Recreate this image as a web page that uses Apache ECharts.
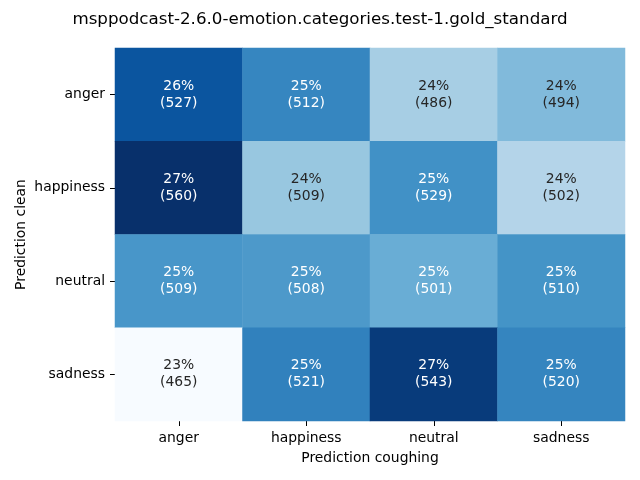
<!DOCTYPE html>
<html>
<head>
<meta charset="utf-8">
<script src="https://cdn.jsdelivr.net/npm/echarts@6/dist/echarts.min.js"></script>
<style>html,body{margin:0;padding:0;background:#fff;}#c{width:640px;height:480px;}</style>
</head>
<body>
<div id="c"></div>
<script>
const titleText = "msppodcast-2.6.0-emotion.categories.test-1.gold_standard";
const xCategories = ["anger", "happiness", "neutral", "sadness"];
const yCategories = ["anger", "happiness", "neutral", "sadness"];
const countsAnger = [527, 512, 486, 494];
const countsHappiness = [560, 509, 529, 502];
const countsNeutral = [509, 508, 501, 510];
const countsSadness = [465, 521, 543, 520];
const xName = "Prediction coughing";
const yName = "Prediction clean";

const rows = [countsAnger, countsHappiness, countsNeutral, countsSadness];
const blues = ['#f7fbff','#deebf7','#c6dbef','#9ecae1','#6baed6','#4292c6','#2171b5','#08519c','#08306b'];

function hexToRgb(h){return [parseInt(h.substr(1,2),16),parseInt(h.substr(3,2),16),parseInt(h.substr(5,2),16)];}
function colorAt(t){
  t=Math.max(0,Math.min(1,t));
  const p=t*(blues.length-1); const i=Math.min(Math.floor(p),blues.length-2); const f=p-i;
  const a=hexToRgb(blues[i]), b=hexToRgb(blues[i+1]);
  return [0,1,2].map(k=>a[k]+(b[k]-a[k])*f);
}
function lum(rgb){
  const c=rgb.map(v=>{v/=255;return v<=0.03928?v/12.92:Math.pow((v+0.055)/1.055,2.4);});
  return 0.2126*c[0]+0.7152*c[1]+0.0722*c[2];
}

const cells=[];
rows.forEach((r,yi)=>{
  const s=r.reduce((a,b)=>a+b,0);
  r.forEach((v,xi)=>{cells.push({xi,yi,pct:v/s*100,count:v});});
});
const pmin=Math.min(...cells.map(c=>c.pct)), pmax=Math.max(...cells.map(c=>c.pct));
const data=cells.map(c=>{
  const rgb=colorAt((c.pct-pmin)/(pmax-pmin));
  const txt=lum(rgb)>0.408?'#262626':'#ffffff';
  return {value:[c.xi,c.yi,c.pct,c.count],label:{color:txt}};
});

const chart=echarts.init(document.getElementById('c'),null,{renderer:'canvas'});
const font='DejaVu Sans';
chart.setOption({
  backgroundColor:'#ffffff',
  animation:false,
  title:{text:titleText,left:'center',top:6,textStyle:{fontFamily:font,fontSize:16.7,fontWeight:'normal',color:'#000'}},
  grid:{left:115,right:15,top:48,bottom:59},
  xAxis:{type:'category',data:xCategories,name:xName,nameLocation:'middle',nameGap:30,nameMoveOverlap:false,
    nameTextStyle:{fontFamily:font,fontSize:13.9,color:'#000'},
    axisLine:{show:false},axisTick:{show:true,alignWithLabel:true,length:5,lineStyle:{color:'#000'}},
    axisLabel:{fontFamily:font,fontSize:13.9,color:'#000',margin:10},splitLine:{show:false},splitArea:{show:false}},
  yAxis:{type:'category',data:yCategories,inverse:true,name:yName,nameLocation:'middle',nameGap:87,nameMoveOverlap:false,
    nameTextStyle:{fontFamily:font,fontSize:13.9,color:'#000'},
    axisLine:{show:false},axisTick:{show:true,alignWithLabel:true,length:5,lineStyle:{color:'#000'}},
    axisLabel:{fontFamily:font,fontSize:13.9,color:'#000',margin:10},splitLine:{show:false},splitArea:{show:false}},
  visualMap:{show:false,min:pmin,max:pmax,dimension:2,inRange:{color:blues}},
  series:[{type:'heatmap',data:data,
    label:{show:true,fontFamily:font,fontSize:13.9,lineHeight:17,
      formatter:p=>Math.round(p.value[2])+'%\n('+p.value[3]+')'},
    itemStyle:{borderWidth:0},emphasis:{disabled:true}}]
});
</script>
</body>
</html>
